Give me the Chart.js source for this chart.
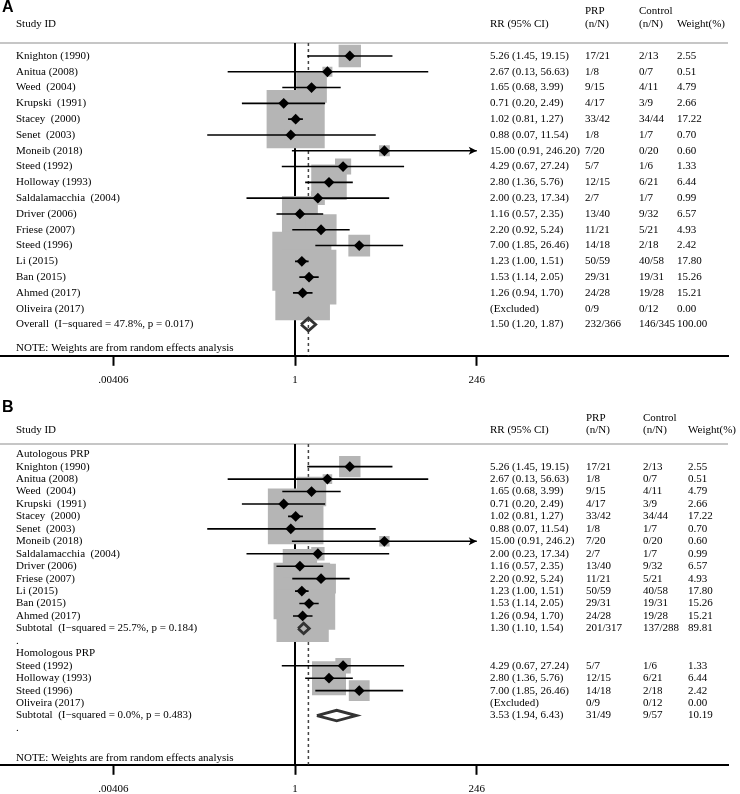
<!DOCTYPE html>
<html lang="en">
<head>
<meta charset="UTF-8">
<title>PRP forest plot</title>
<style>
  html, body { margin: 0; padding: 0; background: #fff; overflow: hidden; }
  canvas { position: absolute; left: 0; }
  #panelA { top: 0; }
  #panelB { top: 396px; }
</style>
<script src="https://cdn.jsdelivr.net/npm/chart.js"></script>
</head>
<body>
<canvas id="panelA" width="740" height="395"></canvas>
<canvas id="panelB" width="740" height="408"></canvas>
<script>
// studies, in the order of panel A
const studies = ['Knighton (1990)', 'Anitua (2008)', 'Weed  (2004)', 'Krupski  (1991)', 'Stacey  (2000)', 'Senet  (2003)',
  'Moneib (2018)', 'Steed (1992)', 'Holloway (1993)', 'Saldalamacchia  (2004)', 'Driver (2006)', 'Friese (2007)',
  'Steed (1996)', 'Li (2015)', 'Ban (2015)', 'Ahmed (2017)', 'Oliveira (2017)'];
const rr     = [5.26, 2.67, 1.65, 0.71, 1.02, 0.88, 15.00, 4.29, 2.80, 2.00, 1.16, 2.20, 7.00, 1.23, 1.53, 1.26, null];
const ciLow  = [1.45, 0.13, 0.68, 0.20, 0.81, 0.07, 0.91, 0.67, 1.36, 0.23, 0.57, 0.92, 1.85, 1.00, 1.14, 0.94, null];
const ciHigh = [19.15, 56.63, 3.99, 2.49, 1.27, 11.54, 246.20, 27.24, 5.76, 17.34, 2.35, 5.24, 26.46, 1.51, 2.05, 1.70, null];
const weight = [2.55, 0.51, 4.79, 2.66, 17.22, 0.70, 0.60, 1.33, 6.44, 0.99, 6.57, 4.93, 2.42, 17.80, 15.26, 15.21, 0.00];
const prpN   = ['17/21', '1/8', '9/15', '4/17', '33/42', '1/8', '7/20', '5/7', '12/15', '2/7', '13/40', '11/21', '14/18', '50/59', '29/31', '24/28', '0/9'];
const ctrlN  = ['2/13', '0/7', '4/11', '3/9', '34/44', '1/7', '0/20', '1/6', '6/21', '1/7', '9/32', '5/21', '2/18', '40/58', '19/31', '19/28', '0/12'];

// pooled: overall, autologous subtotal, homologous subtotal
const pooledLabel  = ['Overall  (I\u2212squared = 47.8%, p = 0.017)', 'Subtotal  (I\u2212squared = 25.7%, p = 0.184)', 'Subtotal  (I\u2212squared = 0.0%, p = 0.483)'];
const pooledRR     = [1.50, 1.30, 3.53];
const pooledLow    = [1.20, 1.10, 1.94];
const pooledHigh   = [1.87, 1.54, 6.43];
const pooledPrp    = ['232/366', '201/317', '31/49'];
const pooledCtrl   = ['146/345', '137/288', '9/57'];
const pooledWeight = [100.00, 89.81, 10.19];

// subgroups of panel B (indices into studies)
const autologous = [0, 1, 2, 3, 4, 5, 6, 9, 10, 11, 13, 14, 15];
const homologous = [7, 8, 12, 16];

const tickValues = [0.00406, 1, 246];
const tickLabels = ['.00406', '1', '246'];
const xRange = [1.313e-4, 4.98e5];

const SERIF = '"Liberation Serif", "Times New Roman", serif';
const FONT_SIZE = 11;
const note = 'NOTE: Weights are from random effects analysis';

function rowsA() {
    const rows = studies.map((_, i) => ({ type: 'study', i }));
    rows.push({ type: 'pooled', p: 0 });
    return rows;
}

function rowsB() {
    const rows = [{ type: 'head', text: 'Autologous PRP' }];
    autologous.forEach(i => rows.push({ type: 'study', i }));
    rows.push({ type: 'pooled', p: 1 }, { type: 'head', text: '.' }, { type: 'head', text: 'Homologous PRP' });
    homologous.forEach(i => rows.push({ type: 'study', i }));
    rows.push({ type: 'pooled', p: 2 }, { type: 'head', text: '.' });
    return rows;
}

const panels = [
    { id: 'panelA', letter: 'A', rows: rowsA(), yRange: [-0.82, 18.98], noteRow: 18.5, boxScale: 14,
      diamondHalf: 0.4, cols: [490, 585, 639, 677], headY: { letter: 8, top: 11, main: 24 }, topPad: 43, trim: false },
    { id: 'panelB', letter: 'B', rows: rowsB(), yRange: [-0.82, 24.96], noteRow: 24.46, boxScale: 13.4,
      diamondHalf: 0.42, cols: [490, 586, 643, 688], headY: { letter: 12, top: 21.7, main: 34 }, topPad: 48, trim: true }
];

function ciText(est, lo, hi, trim) {
    const f = v => (trim && v >= 100) ? v.toFixed(1) : v.toFixed(2);
    return f(est) + ' (' + f(lo) + ', ' + f(hi) + ')';
}

function forestPlugin(p) {
    return {
        id: 'forest' + p.letter,
        beforeDatasetsDraw(chart) {
            const ctx = chart.ctx, area = chart.chartArea;
            ctx.save();
            ctx.strokeStyle = '#c6c6c6';
            ctx.lineWidth = 2;
            ctx.beginPath();
            ctx.moveTo(0, area.top);
            ctx.lineTo(area.right, area.top);
            ctx.stroke();
            ctx.restore();
        },
        afterDatasetsDraw(chart) {
            // arrow heads where the CI runs past the last tick
            const ctx = chart.ctx, xs = chart.scales.x, ys = chart.scales.y;
            const maxTick = tickValues[tickValues.length - 1];
            ctx.save();
            ctx.fillStyle = '#000';
            p.rows.forEach((r, k) => {
                if (r.type !== 'study' || rr[r.i] === null || ciHigh[r.i] <= maxTick) return;
                const x = xs.getPixelForValue(ciHigh[r.i]);
                const y = ys.getPixelForValue(k);
                ctx.beginPath();
                ctx.moveTo(x, y);
                ctx.lineTo(x - 8, y - 4);
                ctx.lineTo(x - 6, y);
                ctx.lineTo(x - 8, y + 4);
                ctx.closePath();
                ctx.fill();
            });
            ctx.restore();
        },
        afterDraw(chart) {
            const ctx = chart.ctx, ys = chart.scales.y;
            const c = p.cols, h = p.headY;
            ctx.save();
            ctx.fillStyle = '#000';
            ctx.textBaseline = 'middle';
            ctx.textAlign = 'left';
            ctx.font = 'bold 16px "Liberation Sans", Arial, sans-serif';
            ctx.fillText(p.letter, 2, h.letter);

            ctx.font = FONT_SIZE + 'px ' + SERIF;
            ctx.fillText('Study ID', 16, h.main);
            ctx.fillText('RR (95% CI)', c[0], h.main);
            ctx.fillText('PRP', c[1], h.top);
            ctx.fillText('(n/N)', c[1], h.main);
            ctx.fillText('Control', c[2], h.top);
            ctx.fillText('(n/N)', c[2], h.main);
            ctx.fillText('Weight(%)', c[3], h.main);

            p.rows.forEach((r, k) => {
                const y = ys.getPixelForValue(k);
                if (r.type === 'head') {
                    ctx.fillText(r.text, 16, y);
                } else if (r.type === 'study') {
                    const i = r.i;
                    ctx.fillText(studies[i], 16, y);
                    ctx.fillText(rr[i] === null ? '(Excluded)' : ciText(rr[i], ciLow[i], ciHigh[i], p.trim), c[0], y);
                    ctx.fillText(prpN[i], c[1], y);
                    ctx.fillText(ctrlN[i], c[2], y);
                    ctx.fillText(weight[i].toFixed(2), c[3], y);
                } else {
                    const j = r.p;
                    ctx.fillText(pooledLabel[j], 16, y);
                    ctx.fillText(ciText(pooledRR[j], pooledLow[j], pooledHigh[j], p.trim), c[0], y);
                    ctx.fillText(pooledPrp[j], c[1], y);
                    ctx.fillText(pooledCtrl[j], c[2], y);
                    ctx.fillText(pooledWeight[j].toFixed(2), c[3], y);
                }
            });
            ctx.fillText(note, 16, ys.getPixelForValue(p.noteRow));
            ctx.restore();
        }
    };
}

function drawPanel(p) {
    const [y0, y1] = p.yRange;
    const studyRows = [];
    const pooledRows = [];
    p.rows.forEach((r, k) => {
        if (r.type === 'study' && rr[r.i] !== null) studyRows.push({ i: r.i, k });
        if (r.type === 'pooled') pooledRows.push({ j: r.p, k });
    });

    const datasets = [];
    // line of no effect and dashed line at the overall estimate
    datasets.push({ data: [{ x: 1, y: y0 }, { x: 1, y: y1 }], showLine: true, borderColor: '#000',
        borderWidth: 2, pointRadius: 0, order: 10 });
    datasets.push({ data: [{ x: pooledRR[0], y: y0 }, { x: pooledRR[0], y: y1 }], showLine: true,
        borderColor: '#444', borderWidth: 1.5, borderDash: [3, 3], pointRadius: 0, order: 9 });
    // weight boxes
    datasets.push({
        data: studyRows.map(s => ({ x: rr[s.i], y: s.k })),
        pointStyle: 'rect',
        pointRadius: studyRows.map(s => p.boxScale * Math.sqrt(weight[s.i]) / Math.SQRT2),
        pointBackgroundColor: '#b5b5b5', pointBorderWidth: 0, order: 8
    });
    // confidence intervals
    studyRows.forEach(s => {
        datasets.push({ data: [{ x: ciLow[s.i], y: s.k }, { x: ciHigh[s.i], y: s.k }], showLine: true,
            borderColor: '#000', borderWidth: 1.6, pointRadius: 0, order: 7 });
    });
    // point estimates
    datasets.push({
        data: studyRows.map(s => ({ x: rr[s.i], y: s.k })),
        pointStyle: 'rectRot', pointRadius: 5.4, pointBackgroundColor: '#000', pointBorderWidth: 0, order: 6
    });
    // pooled diamonds
    pooledRows.forEach(s => {
        const d = p.diamondHalf, j = s.j;
        datasets.push({
            data: [{ x: pooledLow[j], y: s.k }, { x: pooledRR[j], y: s.k - d }, { x: pooledHigh[j], y: s.k },
                   { x: pooledRR[j], y: s.k + d }, { x: pooledLow[j], y: s.k }],
            showLine: true, borderColor: '#333', borderWidth: 2.8, borderJoinStyle: 'miter',
            pointRadius: 0, fill: false, order: 5
        });
    });

    new Chart(document.getElementById(p.id), {
        type: 'scatter',
        data: { datasets },
        options: {
            responsive: false,
            animation: false,
            events: [],
            layout: { autoPadding: false, padding: { top: p.topPad, left: 0, right: 12, bottom: 0 } },
            plugins: { legend: { display: false }, tooltip: { enabled: false } },
            scales: {
                x: {
                    type: 'logarithmic',
                    min: xRange[0],
                    max: xRange[1],
                    position: 'bottom',
                    afterBuildTicks: axis => { axis.ticks = tickValues.map(v => ({ value: v })); },
                    afterFit: axis => { axis.paddingLeft = 0; axis.paddingRight = 0; },
                    ticks: {
                        autoSkip: false, maxRotation: 0, padding: 8, color: '#000',
                        font: { family: SERIF, size: FONT_SIZE },
                        callback: (v, idx) => tickLabels[idx]
                    },
                    grid: { drawOnChartArea: false, drawTicks: true, tickLength: 10, tickWidth: 2, tickColor: '#000', color: '#000' },
                    border: { display: true, color: '#000', width: 2 }
                },
                y: { type: 'linear', display: false, reverse: true, min: y0, max: y1 }
            }
        },
        plugins: [forestPlugin(p)]
    });
}

panels.forEach(drawPanel);
</script>
</body>
</html>
